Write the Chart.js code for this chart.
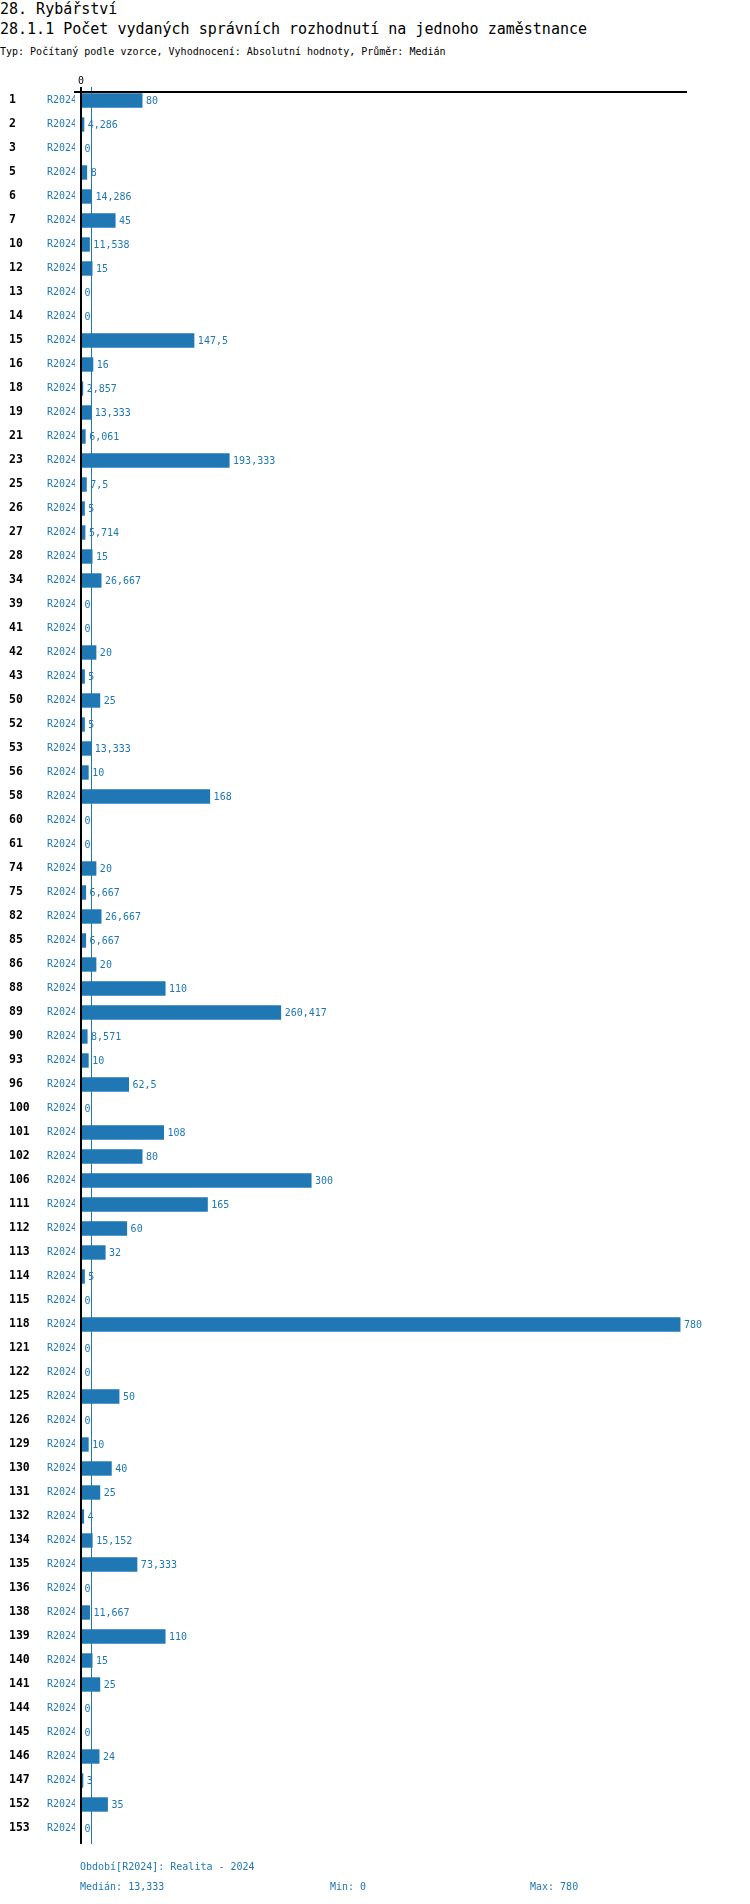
<!DOCTYPE html>
<html>
<head>
<meta charset="utf-8">
<script src="https://cdn.jsdelivr.net/npm/chart.js@4.4.1/dist/chart.umd.min.js"></script>
<style>
  html, body { margin: 0; padding: 0; background: #fff; }
  body { width: 750px; height: 1904px; position: relative; overflow: hidden; font-family: "DejaVu Sans Mono", monospace; }
  .t { position: absolute; white-space: pre; line-height: 1; }
  #wrap { position: absolute; left: 0; top: 0; width: 750px; height: 1904px; }
</style>
</head>
<body>
<div class="t" id="title" style="left:0;top:2.3px;font-size:15px;color:#000"></div>
<div class="t" id="subtitle" style="left:0;top:22.3px;font-size:15px;color:#000"></div>
<div class="t" id="meta" style="left:0;top:46.5px;font-size:10px;color:#000"></div>
<div id="wrap"><canvas id="c"></canvas></div>
<div class="t" id="period" style="left:80px;top:1861.5px;font-size:10px;color:#1f77b4"></div>
<div class="t" id="med" style="left:80px;top:1881.5px;font-size:10px;color:#1f77b4"></div>
<div class="t" id="mn" style="left:330px;top:1881.5px;font-size:10px;color:#1f77b4"></div>
<div class="t" id="mx" style="left:530px;top:1881.5px;font-size:10px;color:#1f77b4"></div>
<script>
const titleText = '28. Rybářství';
const subtitleText = '28.1.1 Počet vydaných správních rozhodnutí na jednoho zaměstnance';
const metaText = 'Typ: Počítaný podle vzorce, Vyhodnocení: Absolutní hodnoty, Průměr: Medián';
const periodText = 'Období[R2024]: Realita - 2024';
const seriesName = 'R2024';
const xTickLabels = ['0'];

const categories = ['1','2','3','5','6','7','10','12','13','14','15','16','18','19','21','23','25','26','27','28',
  '34','39','41','42','43','50','52','53','56','58','60','61','74','75','82','85','86','88','89','90',
  '93','96','100','101','102','106','111','112','113','114','115','118','121','122','125','126','129','130','131','132',
  '134','135','136','138','139','140','141','144','145','146','147','152','153'];

const values = [80,4.286,0,8,14.286,45,11.538,15,0,0,147.5,16,2.857,13.333,6.061,193.333,7.5,5,5.714,15,
  26.667,0,0,20,5,25,5,13.333,10,168,0,0,20,6.667,26.667,6.667,20,110,260.417,8.571,
  10,62.5,0,108,80,300,165,60,32,5,0,780,0,0,50,0,10,40,25,4,
  15.152,73.333,0,11.667,110,15,25,0,0,24,3,35,0];

const BLUE = '#1f77b4';
const FONT = '"DejaVu Sans Mono", monospace';
const fmt = v => String(v).replace('.', ',');

const sorted = [...values].sort((a, b) => a - b);
const median = sorted[Math.floor(sorted.length / 2)];
const minV = sorted[0];
const maxV = sorted[sorted.length - 1];

document.getElementById('title').textContent = titleText;
document.getElementById('subtitle').textContent = subtitleText;
document.getElementById('meta').textContent = metaText;
document.getElementById('period').textContent = periodText;
document.getElementById('med').textContent = 'Medián: ' + fmt(median);
document.getElementById('mn').textContent = 'Min: ' + fmt(minV);
document.getElementById('mx').textContent = 'Max: ' + fmt(maxV);

const valueLabels = {
  id: 'valueLabels',
  afterDatasetsDraw(chart) {
    const meta = chart.getDatasetMeta(0);
    const c = chart.ctx;
    c.save();
    c.font = '10px ' + FONT;
    c.fillStyle = BLUE;
    c.textAlign = 'left';
    c.textBaseline = 'middle';
    meta.data.forEach((bar, i) => {
      c.fillText(fmt(values[i]), bar.x + 3.5, bar.y + 1);
    });
    c.restore();
  }
};

const rowAxis = (extra) => Object.assign({
  type: 'linear', position: 'left', reverse: true, offset: false,
  min: -0.354, max: 72.646, bounds: 'data',
  afterBuildTicks: a => { a.ticks = categories.map((c, i) => ({ value: i })); },
  grid: { display: false, drawTicks: false, offset: false },
  border: { display: false }
}, extra);

new Chart(document.getElementById('c'), {
  type: 'bar',
  data: {
    datasets: [{
      label: seriesName,
      data: values.map((v, i) => ({ x: v, y: i })),
      backgroundColor: BLUE,
      borderWidth: 0,
      categoryPercentage: 1,
      barPercentage: 0.6,
      xAxisID: 'x',
      yAxisID: 'y'
    }]
  },
  options: {
    indexAxis: 'y',
    animation: false,
    responsive: true,
    maintainAspectRatio: false,
    devicePixelRatio: 1,
    layout: { padding: { top: 72, right: 64, bottom: 60, left: 9 } },
    plugins: { legend: { display: false }, tooltip: { enabled: false }, title: { display: false } },
    scales: {
      x: {
        type: 'linear', position: 'top', min: -7.8, max: 787.2, bounds: 'data', offset: false,
        afterBuildTicks: a => { a.ticks = [{ value: 0 }, { value: median }]; },
        afterFit: a => { a.height = 20; },
        ticks: {
          callback: v => (v === 0 ? xTickLabels[0] : ''),
          padding: 0, color: '#000', font: { family: FONT, size: 10 }, autoSkip: false, maxRotation: 0
        },
        grid: {
          z: 1, drawOnChartArea: true, drawTicks: true, tickLength: 5, offset: false,
          color: c => (c.tick && c.tick.value === 0 ? '#000' : BLUE),
          lineWidth: c => (c.tick && c.tick.value === 0 ? 2 : 1)
        },
        border: { display: true, color: '#000', width: 2, z: 1 }
      },
      y: rowAxis({
        weight: 0,
        afterFit: a => { a.width = 36; },
        ticks: { callback: () => seriesName, color: BLUE, font: { family: FONT, size: 10 }, padding: -2, autoSkip: false, crossAlign: 'near' }
      }),
      y2: rowAxis({
        weight: 1,
        afterFit: a => { a.width = 30; },
        ticks: { callback: v => categories[v], color: '#000', font: { family: FONT, size: 11.5, weight: 'bold' }, padding: 0, autoSkip: false, crossAlign: 'far' }
      })
    }
  },
  plugins: [valueLabels]
});
</script>
</body>
</html>
